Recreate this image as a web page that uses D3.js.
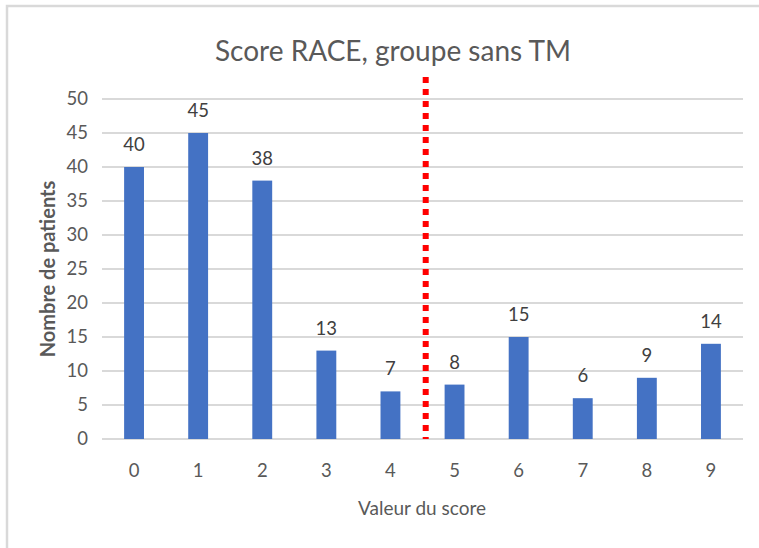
<!DOCTYPE html>
<html lang="fr">
<head>
<meta charset="utf-8">
<script src="https://d3js.org/d3.v7.min.js"></script>
<style>
  html, body { margin: 0; padding: 0; background: #fff; }
  svg { display: block; font-family: Lato, "Open Sans", sans-serif; }
</style>
</head>
<body>
<svg id="chart" width="759" height="548"></svg>
<script>
// data
const scores = ["0", "1", "2", "3", "4", "5", "6", "7", "8", "9"];
const patients = [40, 45, 38, 13, 7, 8, 15, 6, 9, 14];
const yTicks = [0, 5, 10, 15, 20, 25, 30, 35, 40, 45, 50];
const cutoff = 4.55; // red dotted separator, between score 4 and 5

const svg = d3.select("#chart");

// outer chart frame (runs off the right / bottom edge)
svg.append("rect")
    .attr("x", 7).attr("y", 6)
    .attr("width", 800).attr("height", 600)
    .attr("fill", "none")
    .attr("stroke", "#d9d9d9")
    .attr("stroke-width", 2.5);

const plotLeft = 102, plotRight = 743, plotTop = 99, plotBottom = 439;

const x = d3.scaleBand()
    .domain(scores)
    .range([plotLeft, plotRight])
    .paddingInner(0.69)
    .paddingOuter(0.345);

const y = d3.scaleLinear()
    .domain([0, 50])
    .range([plotBottom, plotTop]);

// gridlines
svg.append("g")
  .selectAll("line")
  .data(yTicks)
  .join("line")
    .attr("x1", plotLeft).attr("x2", plotRight)
    .attr("y1", d => y(d)).attr("y2", d => y(d))
    .attr("stroke", "#d9d9d9")
    .attr("stroke-width", 2);

// y tick labels
svg.append("g")
  .selectAll("text")
  .data(yTicks)
  .join("text")
    .attr("x", 88)
    .attr("y", d => y(d))
    .attr("dy", "0.35em")
    .attr("text-anchor", "end")
    .attr("fill", "#595959")
    .attr("font-size", 18.5)
    .text(d => d);

// bars
svg.append("g")
  .selectAll("rect")
  .data(patients)
  .join("rect")
    .attr("x", (d, i) => x(scores[i]))
    .attr("y", d => y(d))
    .attr("width", x.bandwidth())
    .attr("height", d => y(0) - y(d))
    .attr("fill", "#4472c4");

// data labels
svg.append("g")
  .selectAll("text")
  .data(patients)
  .join("text")
    .attr("x", (d, i) => x(scores[i]) + x.bandwidth() / 2)
    .attr("y", d => y(d) - 16)
    .attr("text-anchor", "middle")
    .attr("fill", "#404040")
    .attr("font-size", 18.5)
    .text(d => d);

// x tick labels
svg.append("g")
  .selectAll("text")
  .data(scores)
  .join("text")
    .attr("x", d => x(d) + x.bandwidth() / 2)
    .attr("y", 477)
    .attr("text-anchor", "middle")
    .attr("fill", "#595959")
    .attr("font-size", 18.5)
    .text(d => d);

// red dotted separator
const xLin = d3.scaleLinear()
    .domain([0, scores.length - 1])
    .range([x(scores[0]) + x.bandwidth() / 2, x(scores[scores.length - 1]) + x.bandwidth() / 2]);
svg.append("line")
    .attr("x1", xLin(cutoff)).attr("x2", xLin(cutoff))
    .attr("y1", 77).attr("y2", plotBottom)
    .attr("stroke", "#ff0000")
    .attr("stroke-width", 6)
    .attr("stroke-dasharray", "6,6");

// title
svg.append("text")
    .attr("x", 393).attr("y", 61)
    .attr("text-anchor", "middle")
    .attr("fill", "#595959")
    .attr("font-size", 28)
    .text("Score RACE, groupe sans TM");

// axis titles
svg.append("text")
    .attr("x", 422).attr("y", 515)
    .attr("text-anchor", "middle")
    .attr("fill", "#595959")
    .attr("font-size", 19)
    .text("Valeur du score");

svg.append("text")
    .attr("transform", "translate(55,269) rotate(-90)")
    .attr("text-anchor", "middle")
    .attr("fill", "#595959")
    .attr("font-size", 20)
    .attr("font-weight", "bold")
    .text("Nombre de patients");
</script>
</body>
</html>
